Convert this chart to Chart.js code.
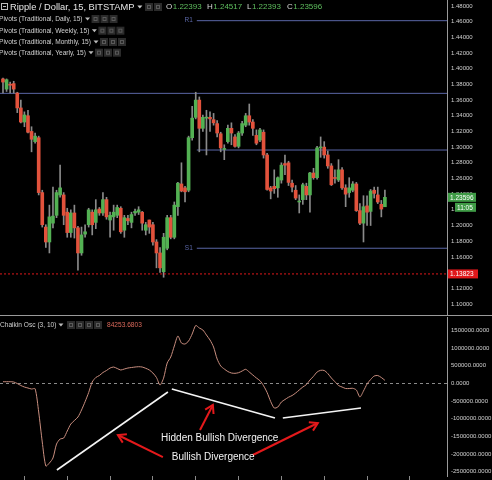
<html>
<head>
<meta charset="utf-8">
<script src="https://cdn.jsdelivr.net/npm/chart.js@4.4.0/dist/chart.umd.min.js"></script>
<style>
body { margin:0; background:#000; }
#wrap { position:relative; width:492px; height:480px; overflow:hidden; }
canvas { position:absolute; left:0; }
#price { top:0; }
#osc { top:315px; }
</style>
</head>
<body>
<div id="wrap">
<canvas id="price" width="492" height="315"></canvas>
<canvas id="osc" width="492" height="165"></canvas>
</div>
<script>
// XRP/USD 15 min candles, Bitstamp
var opens  = [1.387,1.374,1.380,1.381,1.369,1.350,1.332,1.340,1.320,1.307,1.312,1.242,1.198,1.179,1.203,1.213,1.239,1.239,1.217,1.191,
              1.216,1.197,1.165,1.189,1.201,1.217,1.204,1.221,1.216,1.233,1.207,1.211,1.213,1.222,1.194,1.209,1.204,1.216,1.217,1.217,
              1.194,1.207,1.201,1.179,1.165,1.141,1.171,1.210,1.185,1.224,1.253,1.248,1.245,1.312,1.338,1.360,1.324,1.337,1.338,1.335,
              1.330,1.317,1.297,1.307,1.324,1.313,1.301,1.318,1.328,1.340,1.332,1.315,1.309,1.319,1.290,1.248,1.250,1.248,1.258,1.279,
              1.280,1.254,1.245,1.230,1.233,1.250,1.239,1.267,1.261,1.299,1.300,1.290,1.276,1.261,1.258,1.271,1.248,1.242,1.245,1.253,
              1.219,1.203,1.225,1.218,1.245,1.239,1.227,1.22393];
var highs  = [1.388,1.387,1.383,1.384,1.370,1.360,1.345,1.347,1.326,1.318,1.314,1.245,1.201,1.226,1.249,1.245,1.277,1.242,1.222,1.220,
              1.226,1.199,1.198,1.201,1.222,1.220,1.233,1.223,1.242,1.236,1.217,1.226,1.226,1.224,1.213,1.213,1.217,1.221,1.224,1.218,
              1.204,1.207,1.204,1.182,1.172,1.190,1.213,1.213,1.230,1.255,1.280,1.250,1.314,1.352,1.370,1.364,1.341,1.347,1.345,1.343,
              1.334,1.319,1.303,1.328,1.331,1.316,1.320,1.333,1.343,1.355,1.335,1.322,1.324,1.322,1.292,1.250,1.271,1.262,1.280,1.290,
              1.282,1.258,1.251,1.239,1.254,1.254,1.268,1.273,1.301,1.313,1.307,1.295,1.279,1.271,1.284,1.274,1.252,1.261,1.256,1.255,
              1.228,1.238,1.238,1.246,1.249,1.249,1.232,1.24517];
var lows   = [1.369,1.371,1.369,1.369,1.344,1.331,1.326,1.318,1.294,1.305,1.239,1.198,1.172,1.165,1.197,1.210,1.236,1.201,1.185,1.185,
              1.184,1.143,1.162,1.185,1.198,1.188,1.196,1.213,1.213,1.208,1.185,1.194,1.210,1.190,1.185,1.201,1.197,1.213,1.214,1.194,
              1.188,1.190,1.175,1.146,1.140,1.134,1.169,1.183,1.183,1.213,1.243,1.230,1.243,1.309,1.336,1.294,1.320,1.290,1.320,1.328,
              1.313,1.294,1.284,1.305,1.303,1.300,1.299,1.315,1.326,1.328,1.315,1.303,1.307,1.286,1.245,1.234,1.241,1.236,1.254,1.265,
              1.251,1.243,1.233,1.216,1.227,1.233,1.217,1.259,1.259,1.287,1.286,1.273,1.251,1.254,1.256,1.246,1.224,1.236,1.243,1.218,
              1.201,1.179,1.200,1.200,1.235,1.228,1.211,1.22393];
var closes = [1.383,1.386,1.379,1.374,1.350,1.332,1.341,1.319,1.310,1.314,1.242,1.201,1.179,1.211,1.212,1.242,1.248,1.213,1.191,1.216,
              1.197,1.165,1.188,1.192,1.220,1.201,1.220,1.216,1.233,1.211,1.213,1.217,1.223,1.192,1.210,1.206,1.214,1.218,1.220,1.203,
              1.201,1.198,1.179,1.165,1.146,1.185,1.210,1.185,1.226,1.254,1.244,1.243,1.312,1.337,1.360,1.324,1.338,1.338,1.336,1.331,
              1.318,1.299,1.298,1.324,1.318,1.301,1.318,1.330,1.340,1.332,1.324,1.305,1.322,1.290,1.246,1.244,1.247,1.261,1.277,1.277,
              1.255,1.249,1.235,1.231,1.252,1.239,1.267,1.261,1.299,1.300,1.290,1.276,1.252,1.260,1.271,1.248,1.240,1.248,1.253,1.219,
              1.203,1.224,1.217,1.244,1.241,1.230,1.221,1.23596];
// Chaikin Osc (3, 10)
var chaikin = [45000,45000,45000,37000,-6000,-62000,-105000,-133000,-161000,-153000,
               -810000,-1658000,-2336000,-2251000,-2110000,-1715000,-1574000,-1546000,-1347000,-1150000,
               -1051000,-952000,-754000,-520000,-260000,37000,164000,220000,305000,362000,
               432000,460000,418000,376000,404000,432000,446000,460000,469000,460000,
               424000,376000,291000,164000,-48000,150000,573000,743000,1054000,1336000,
               1138000,1110000,1195000,1393000,1633000,1562000,1506000,1364000,1223000,1025000,
               686000,489000,404000,333000,291000,282000,300000,347000,395000,319000,
               234000,150000,73000,-68000,-260000,-514000,-698000,-669000,-528000,-458000,
               -393000,-345000,-274000,-189000,-105000,-37000,93000,198000,319000,367000,
               362000,277000,150000,45000,-62000,-105000,-147000,-147000,-141000,-189000,
               -387000,-218000,-20000,107000,206000,220000,164000,84253.6803];

var priceTicks = [1.10,1.12,1.14,1.16,1.18,1.20,1.22,1.24,1.26,1.28,1.30,1.32,1.34,1.36,1.38,1.40,1.42,1.44,1.46,1.48];
var oscTicks = [1500000,1000000,500000,0,-500000,-1000000,-1500000,-2000000,-2500000];
var timeTicks = [6,18,30,42,54,66,78,90,102,114];

var pivotNames  = ['R1', '', '', 'S1'];
var pivotValues = [1.4613, 1.3686, 1.2963, 1.1710];
var pivotStart  = [54.3, -0.84, 54.3, 54.3];
var lowLevel = 1.13823;
var lastTime = '11:05';
var legendNames = ['Pivots (Traditional, Daily, 15)', 'Pivots (Traditional, Weekly, 15)',
                   'Pivots (Traditional, Monthly, 15)', 'Pivots (Traditional, Yearly, 15)'];

// hand drawn notes on the oscillator, in candle index / osc value
var divLines = [[15.1,-2449000,46.2,-246000],[47.3,-161000,76.2,-980000],[78.4,-980000,100.3,-698000]];
var arrows = [[55.2,-1319000,58.8,-613000],[44.8,-2082000,32.2,-1460000],[70.0,-2025000,88.2,-1121000]];
var notes = [['Hidden Bullish Divergence',44.3,-1545000],['Bullish Divergence',47.3,-2101000]];

var xMin = -0.84, xMax = 124.4;
var UP = '#53b153', DOWN = '#e2523c', WICK = '#8a8a8a', PIVOT = '#5a66a6';
var FONT = '"Liberation Sans", Arial, sans-serif';
var last = closes.length - 1;

var wicks = [], bodies = [], bodyCol = [];
for (var i = 0; i < closes.length; i++) {
  wicks.push({x: i, y: [lows[i], highs[i]]});
  bodies.push({x: i, y: [opens[i], closes[i]]});
  bodyCol.push(closes[i] >= opens[i] ? UP : DOWN);
}

var pivotSets = pivotValues.map(function(v, k) {
  return {type: 'line', data: [{x: pivotStart[k], y: v}, {x: xMax, y: v}], borderColor: PIVOT,
          borderWidth: 1, pointRadius: 0, order: 3};
});

function fitRight(scale) { scale.width = 45; }

// right axis look shared by both panes; tiny lineHeight keeps labels from padding the plot area
function rightAxis(min, max, list, digits) {
  return {
    position: 'right', min: min, max: max,
    afterFit: fitRight,
    afterBuildTicks: function(s) { s.ticks = list.map(function(v) { return {value: v}; }); },
    grid: {drawOnChartArea: false, drawTicks: true, tickLength: 4, tickColor: 'rgba(0,0,0,0)'},
    border: {color: '#9a9a9a'},
    ticks: {padding: 0, color: '#d0d0d0', font: {family: FONT, size: 6, lineHeight: 0.01},
            callback: function(v) { return v.toFixed(digits); }}
  };
}

function tri(ctx, x, y, col) {
  ctx.fillStyle = col;
  ctx.beginPath(); ctx.moveTo(x, y - 1.5); ctx.lineTo(x + 5, y - 1.5); ctx.lineTo(x + 2.5, y + 1.5); ctx.fill();
}
function icons(ctx, x, y, n) {
  for (var k = 0; k < n; k++) {
    ctx.fillStyle = '#2b2b2b';
    ctx.fillRect(x + k * 9, y - 4, 8, 8);
    ctx.strokeStyle = '#5a5a5a'; ctx.lineWidth = 1;
    ctx.strokeRect(x + k * 9 + 2.5, y - 1.5, 3, 3);
  }
}
function tag(ctx, x, y, w, bg, txt) {
  ctx.fillStyle = bg;
  ctx.fillRect(x, y - 4.5, w, 9);
  ctx.fillStyle = '#fff';
  ctx.font = '6.5px ' + FONT;
  ctx.textAlign = 'left'; ctx.textBaseline = 'middle';
  ctx.fillText(txt, x + 2, y + 0.5);
}

var priceOverlay = {
  id: 'priceOverlay',
  afterDraw: function(chart) {
    var ctx = chart.ctx, ys = chart.scales.y, xs = chart.scales.x, area = chart.chartArea;
    ctx.save();
    // pivot labels
    ctx.font = '6.5px ' + FONT; ctx.fillStyle = PIVOT; ctx.textAlign = 'right'; ctx.textBaseline = 'middle';
    pivotNames.forEach(function(n, k) {
      if (n) ctx.fillText(n, xs.getPixelForValue(pivotStart[k]) - 4, ys.getPixelForValue(pivotValues[k]));
    });
    // price tags on the axis
    var yc = ys.getPixelForValue(closes[last]);
    tag(ctx, area.right + 1, yc, 28, '#3f9b46', closes[last].toFixed(5));
    tag(ctx, area.right + 8, yc + 10, 21, '#3f9b46', lastTime);
    tag(ctx, area.right + 1, ys.getPixelForValue(lowLevel), 30, '#e0181b', lowLevel.toFixed(5));
    // header
    ctx.textAlign = 'left'; ctx.textBaseline = 'middle';
    ctx.strokeStyle = '#bbb'; ctx.lineWidth = 1;
    ctx.strokeRect(1.5, 3.5, 6, 6);
    ctx.fillStyle = '#bbb'; ctx.fillRect(3, 6, 3, 1);
    ctx.font = '9.3px ' + FONT; ctx.fillStyle = '#e6e6e6';
    var title = 'Ripple / Dollar, 15, BITSTAMP';
    ctx.fillText(title, 10, 7);
    var tw = ctx.measureText(title).width;
    tri(ctx, 13 + tw, 7, '#ccc');
    icons(ctx, 145, 7, 2);
    var ohlc = [['O', opens[last]], ['H', highs[last]], ['L', lows[last]], ['C', closes[last]]];
    var ox = [166, 207, 247, 287];
    ctx.font = '8px ' + FONT;
    ohlc.forEach(function(p, k) {
      ctx.fillStyle = '#d8d8d8'; ctx.fillText(p[0], ox[k], 7);
      var lw = ctx.measureText(p[0]).width;
      ctx.fillStyle = '#5fbf5f'; ctx.fillText(p[1].toFixed(5), ox[k] + lw + 0.5, 7);
    });
    ctx.font = '6.6px ' + FONT;
    var ly = [19, 30.7, 42, 52.7];
    legendNames.forEach(function(t, k) {
      ctx.fillStyle = '#cfcfcf';
      ctx.fillText(t, -1, ly[k]);
      var w = ctx.measureText(t).width;
      tri(ctx, w + 1.5, ly[k], '#bbb');
      icons(ctx, w + 8, ly[k], 3);
    });
    ctx.restore();
  }
};

new Chart(document.getElementById('price'), {
  type: 'bar',
  data: {
    datasets: [
      {data: wicks, backgroundColor: WICK, barThickness: 1, grouped: false, order: 2},
      {data: bodies, backgroundColor: bodyCol, barThickness: 3, minBarLength: 1, grouped: false, order: 1},
      pivotSets[0], pivotSets[1], pivotSets[2], pivotSets[3],
      {type: 'line', data: [{x: xMin, y: lowLevel}, {x: xMax, y: lowLevel}], borderColor: '#e0181b',
       borderWidth: 1, borderDash: [2, 2], pointRadius: 0, order: 0}
    ]
  },
  options: {
    responsive: false, animation: false,
    layout: {padding: 0},
    plugins: {legend: {display: false}, tooltip: {enabled: false}},
    scales: {
      x: {type: 'linear', min: xMin, max: xMax, offset: false, display: false},
      y: rightAxis(1.08587, 1.48765, priceTicks, 5)
    }
  },
  plugins: [priceOverlay]
});

var oscOverlay = {
  id: 'oscOverlay',
  beforeDatasetsDraw: function(chart) {
    var ctx = chart.ctx, ys = chart.scales.y, area = chart.chartArea;
    ctx.save();
    ctx.strokeStyle = '#8a8a8a'; ctx.lineWidth = 1; ctx.setLineDash([3, 3]);
    var y0 = Math.round(ys.getPixelForValue(0)) + 0.5;
    ctx.beginPath(); ctx.moveTo(area.left, y0); ctx.lineTo(area.right, y0); ctx.stroke();
    ctx.restore();
  },
  afterDatasetsDraw: function(chart) {
    var ctx = chart.ctx, xs = chart.scales.x, ys = chart.scales.y;
    ctx.save();
    ctx.strokeStyle = '#e4191b'; ctx.fillStyle = '#e4191b'; ctx.lineWidth = 2;
    arrows.forEach(function(a) {
      var x0 = xs.getPixelForValue(a[0]), y0 = ys.getPixelForValue(a[1]);
      var x1 = xs.getPixelForValue(a[2]), y1 = ys.getPixelForValue(a[3]);
      var ang = Math.atan2(y1 - y0, x1 - x0), hl = 9;
      ctx.beginPath(); ctx.moveTo(x0, y0); ctx.lineTo(x1, y1); ctx.stroke();
      ctx.beginPath();
      ctx.moveTo(x1 - hl * Math.cos(ang - 0.55), y1 - hl * Math.sin(ang - 0.55));
      ctx.lineTo(x1, y1);
      ctx.lineTo(x1 - hl * Math.cos(ang + 0.55), y1 - hl * Math.sin(ang + 0.55));
      ctx.stroke();
    });
    ctx.font = '10px ' + FONT; ctx.fillStyle = '#f2f2f2';
    ctx.textAlign = 'left'; ctx.textBaseline = 'middle';
    notes.forEach(function(n) {
      ctx.fillText(n[0], xs.getPixelForValue(n[1]), ys.getPixelForValue(n[2]));
    });
    ctx.restore();
  },
  afterDraw: function(chart) {
    var ctx = chart.ctx;
    ctx.save();
    ctx.fillStyle = '#9a9a9a';
    ctx.fillRect(0, 0, chart.width, 1);
    ctx.textAlign = 'left'; ctx.textBaseline = 'middle';
    ctx.font = '6.6px ' + FONT; ctx.fillStyle = '#cfcfcf';
    var t = 'Chaikin Osc (3, 10)';
    ctx.fillText(t, 0, 10);
    var w = ctx.measureText(t).width;
    tri(ctx, w + 2, 10, '#bbb');
    icons(ctx, 67, 10, 4);
    ctx.fillStyle = '#d9685a';
    ctx.fillText(chaikin[last].toFixed(4), 107, 10);
    ctx.restore();
  }
};

var divSets = divLines.map(function(d) {
  return {data: [{x: d[0], y: d[1]}, {x: d[2], y: d[3]}], borderColor: '#f4f4f4', borderWidth: 1.6, pointRadius: 0};
});

new Chart(document.getElementById('osc'), {
  type: 'line',
  data: {
    datasets: [
      {data: chaikin.map(function(v, i) { return {x: i, y: v}; }), borderColor: '#c98e7f', borderWidth: 1,
       pointRadius: 0, tension: 0.25},
      divSets[0], divSets[1], divSets[2]
    ]
  },
  options: {
    responsive: false, animation: false,
    layout: {padding: {top: 2}},
    plugins: {legend: {display: false}, tooltip: {enabled: false}},
    scales: {
      x: {type: 'linear', min: xMin, max: xMax, offset: false,
          afterBuildTicks: function(s) { s.ticks = timeTicks.map(function(v) { return {value: v}; }); },
          grid: {drawOnChartArea: false, drawTicks: true, tickLength: 4, color: '#8a8a8a'},
          border: {display: false},
          ticks: {display: false}},
      y: rightAxis(-2618000, 1873000, oscTicks, 4)
    }
  },
  plugins: [oscOverlay]
});
</script>
</body>
</html>
